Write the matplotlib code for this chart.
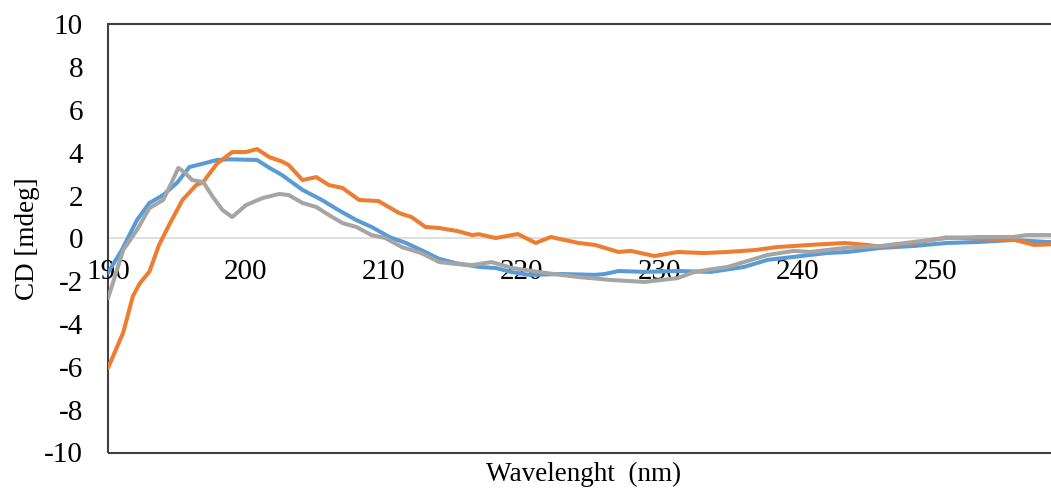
import matplotlib.pyplot as plt
from matplotlib.patches import Rectangle

plt.rcParams['font.family'] = ['Liberation Serif', 'DejaVu Serif']
plt.rcParams['axes.unicode_minus'] = False

# blue series
wl_blue = [190.0, 191.0, 192.1, 193.0, 194.0, 195.0, 195.9, 196.9, 197.9, 198.8,
           200.8, 201.7, 202.6, 204.1, 205.5, 206.7, 208.0, 209.1, 210.4, 211.6,
           212.7, 214.0, 215.2, 216.9, 218.1, 219.2, 220.5, 222.9, 225.3, 226.0,
           227.0, 228.9, 231.3, 233.7, 236.1, 237.8, 239.7, 242.1, 243.6, 246.0,
           248.4, 250.8, 253.2, 255.6, 258.0, 259.0]
cd_blue = [-1.6, -0.54, 0.86, 1.66, 2.03, 2.6, 3.34, 3.5, 3.67, 3.7,
           3.67, 3.3, 2.97, 2.27, 1.8, 1.33, 0.86, 0.54, 0.07, -0.21,
           -0.54, -0.95, -1.15, -1.33, -1.38, -1.56, -1.7, -1.66, -1.7, -1.66,
           -1.52, -1.56, -1.52, -1.56, -1.33, -1.0, -0.86, -0.68, -0.63, -0.44,
           -0.35, -0.21, -0.16, -0.07, -0.16, -0.16]

# orange series
wl_orange = [190.0, 191.1, 191.8, 192.3, 193.0, 193.7, 194.5, 195.4, 196.4, 196.9,
             197.9, 199.0, 200.0, 200.8, 201.7, 202.6, 203.1, 204.1, 205.1, 206.0,
             207.0, 208.2, 209.6, 211.1, 212.0, 213.0, 214.0, 215.3, 216.4, 216.9,
             218.1, 219.7, 221.0, 222.1, 224.1, 225.3, 227.0, 227.9, 229.6, 231.3,
             233.2, 234.9, 236.9, 238.5, 240.9, 243.4, 245.0, 246.0, 248.4, 250.8,
             253.2, 255.6, 257.1, 259.0]
cd_orange = [-6.05, -4.4, -2.7, -2.1, -1.55, -0.3, 0.72, 1.8, 2.5, 2.64,
             3.5, 4.04, 4.04, 4.18, 3.8, 3.6, 3.43, 2.73, 2.87, 2.5,
             2.36, 1.8, 1.75, 1.19, 1.0, 0.54, 0.49, 0.35, 0.16, 0.2,
             0.02, 0.21, -0.21, 0.07, -0.21, -0.3, -0.63, -0.58, -0.82, -0.63,
             -0.68, -0.63, -0.54, -0.4, -0.3, -0.21, -0.3, -0.38, -0.2, 0.05,
             0.0, -0.04, -0.3, -0.26]

# gray series
wl_gray = [190.0, 191.1, 192.1, 193.0, 194.0, 194.6, 195.1, 195.6, 196.1, 196.9,
           197.6, 198.3, 199.0, 200.0, 201.2, 202.4, 203.1, 204.1, 205.1, 206.0,
           207.0, 208.0, 209.1, 210.1, 211.3, 212.7, 214.0, 215.2, 216.4, 217.8,
           219.3, 221.7, 224.1, 226.5, 228.9, 231.3, 232.5, 234.9, 236.1, 237.8,
           239.7, 240.9, 243.4, 246.0, 248.4, 250.8, 253.2, 255.6, 256.6, 259.0]
cd_gray = [-2.8, -0.54, 0.4, 1.42, 1.8, 2.6, 3.3, 3.06, 2.73, 2.64,
           1.94, 1.33, 1.0, 1.56, 1.89, 2.08, 2.03, 1.66, 1.47, 1.1,
           0.72, 0.54, 0.16, 0.02, -0.4, -0.68, -1.1, -1.19, -1.24, -1.1,
           -1.38, -1.61, -1.8, -1.94, -2.03, -1.85, -1.56, -1.33, -1.1, -0.77,
           -0.58, -0.63, -0.44, -0.35, -0.16, 0.02, 0.07, 0.07, 0.16, 0.16]

x_ticks = [190, 200, 210, 220, 230, 240, 250]
y_ticks = list(range(-10, 11, 2))

fig = plt.figure(figsize=(10.51, 4.93), dpi=100)
ax = fig.add_axes([108 / 1051, 40.5 / 493, 952 / 1051, 428 / 493])

line_kw = dict(lw=2.9, solid_capstyle='round', solid_joinstyle='round')
ax.plot(wl_blue, cd_blue, color='#5B9BD5', **line_kw)
ax.plot(wl_orange, cd_orange, color='#ED7D31', **line_kw)
ax.plot(wl_gray, cd_gray, color='#A5A5A5', **line_kw)

ax.set_xlim(190, 259)
ax.set_ylim(-10, 10)

# zero line acts as x axis, frame drawn separately
for s in ['top', 'right', 'left']:
    ax.spines[s].set_visible(False)
ax.spines['bottom'].set_position(('data', 0))
ax.spines['bottom'].set_color('#D9D9D9')
ax.spines['bottom'].set_linewidth(1.2)
ax.spines['bottom'].set_zorder(0)
ax.add_patch(Rectangle((0, 0), 1, 1, transform=ax.transAxes, fill=False,
                       edgecolor='#404040', lw=1.5, clip_on=False))

ax.set_xticks(x_ticks)
ax.set_yticks(y_ticks)
ax.tick_params(axis='x', length=0, pad=15, labelsize=21)
ax.tick_params(axis='y', length=0, pad=18, labelsize=21)

fig.text(27 / 1051, 1 - 239 / 493, 'CD [mdeg]', fontsize=19.5,
         rotation=90, ha='center', va='center')
fig.text(584 / 1051, 1 - 474 / 493, 'Wavelenght  (nm)', fontsize=19.5,
         ha='center', va='center')

fig.savefig('out.png', dpi=100)
